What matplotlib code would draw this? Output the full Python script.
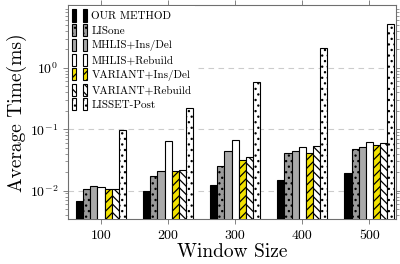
import matplotlib
matplotlib.use("Agg")

import matplotlib.pyplot as plt
import numpy as np
from matplotlib.patches import Patch
from matplotlib.legend_handler import HandlerTuple

# data (ms, log scale)
window_sizes = [100, 200, 300, 400, 500]
method_names = [
    "OUR METHOD",
    "LISone",
    "MHLIS+Ins/Del",
    "MHLIS+Rebuild",
    "VARIANT+Ins/Del",
    "VARIANT+Rebuild",
    "LISSET-Post",
]
our_method = [0.0068, 0.0099, 0.0123, 0.0151, 0.0192]
lisone = [0.0105, 0.0174, 0.0249, 0.0411, 0.0483]
mhlis_insdel = [0.0121, 0.0209, 0.0448, 0.0448, 0.0510]
mhlis_rebuild = [0.0115, 0.0650, 0.0670, 0.0520, 0.0630]
variant_insdel = [0.0105, 0.0210, 0.0310, 0.0410, 0.0555]
variant_rebuild = [0.0105, 0.0217, 0.0358, 0.0535, 0.0590]
lisset_post = [0.0975, 0.2200, 0.5850, 2.1400, 5.2700]

series = [our_method, lisone, mhlis_insdel, mhlis_rebuild,
          variant_insdel, variant_rebuild, lisset_post]

STYLES = [
    dict(facecolor="black", hatch=None),
    dict(facecolor="#9a9a9a", hatch="..."),
    dict(facecolor="#aaaaaa", hatch=None),
    dict(facecolor="white", hatch=None),
    dict(facecolor="#f2e200", hatch="////"),
    dict(facecolor="white", hatch="\\\\\\\\"),
    dict(facecolor="white", hatch="..."),
]

plt.rcParams["font.family"] = ["cmr10", "DejaVu Serif"]
plt.rcParams["mathtext.fontset"] = "cm"
plt.rcParams["axes.formatter.use_mathtext"] = True
plt.rcParams["hatch.linewidth"] = 0.9
plt.rcParams["hatch.color"] = "black"

fig = plt.figure(figsize=(4.0, 2.64), dpi=100)
ax = fig.add_axes([0.17, 0.169, 0.82, 0.812])

bar_w = 10.6
x = np.array(window_sizes, dtype=float)
handles = []
for i, (vals, st) in enumerate(zip(series, STYLES)):
    offs = (i - 3) * bar_w
    ax.bar(x + offs, vals, width=bar_w, facecolor=st["facecolor"],
           hatch=st["hatch"], edgecolor="black", linewidth=0.8, zorder=3)
    p1 = Patch(facecolor=st["facecolor"], hatch=st["hatch"], edgecolor="black", linewidth=0.8)
    p2 = Patch(facecolor=st["facecolor"], hatch=st["hatch"], edgecolor="black", linewidth=0.8)
    handles.append((p1, p2))

ax.set_yscale("log")
ax.set_ylim(10 ** -2.469, 10 ** 1.024)
ax.set_xlim(50.8, 539.8)
ax.set_xticks(window_sizes)
ax.set_xticklabels([str(w) for w in window_sizes])
ax.set_yticks([0.01, 0.1, 1])

ax.yaxis.grid(True, which="major", linestyle=(0, (5, 4)), color="#cccccc", linewidth=0.8)
ax.set_axisbelow(True)

for s in ax.spines.values():
    s.set_color("#6f6f6f")
    s.set_linewidth(0.8)

ax.tick_params(axis="both", which="major", direction="out", length=3.5,
               width=0.6, color="#6f6f6f", labelsize=10, top=True, right=True)
ax.tick_params(axis="y", which="minor", direction="out", length=2,
               width=0.5, color="#6f6f6f", right=True)
ax.tick_params(axis="x", pad=4)

ax.set_xlabel("Window Size", fontsize=14, labelpad=1)
ax.set_ylabel("Average Time(ms)", fontsize=14, labelpad=2)

leg = ax.legend(handles, method_names,
                handler_map={tuple: HandlerTuple(ndivide=None, pad=0.6)},
                loc="upper left", bbox_to_anchor=(0.0, 1.0),
                fontsize=8, frameon=True, fancybox=False,
                framealpha=1.0, edgecolor="none", facecolor="white",
                handlelength=1.3, handleheight=1.3, handletextpad=0.4,
                labelspacing=0.22, borderpad=0.3, borderaxespad=0.1)
# keep the legend box above the grid but behind the bars
leg.set_zorder(2.5)

fig.savefig("out.png", dpi=100)
